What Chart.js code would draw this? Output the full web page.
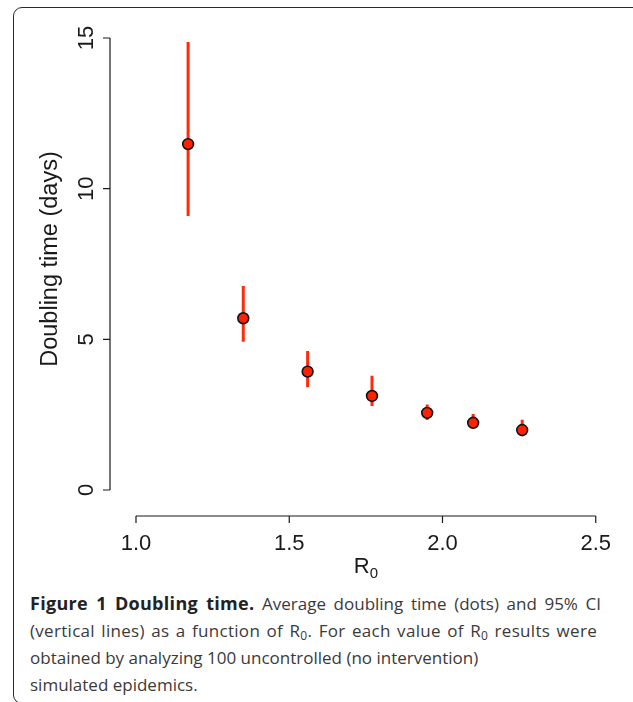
<!DOCTYPE html>
<html>
<head>
<meta charset="utf-8">
<script src="https://cdn.jsdelivr.net/npm/chart.js@4/dist/chart.umd.min.js"></script>
<style>
  html, body { margin: 0; padding: 0; background: #fff; width: 633px; height: 702px; overflow: hidden; }
  #frame { position: absolute; left: 13px; top: 7px; width: 700px; height: 697px;
           border: 1.6px solid #2a2a2a; border-radius: 9px; box-sizing: border-box; }
  #chart { position: absolute; left: 0; top: 0; }
  #caption { position: absolute; left: 30px; top: 590px; width: 600px;
             font-family: "Open Sans", sans-serif; font-size: 17px; line-height: 27px; color: #3a3a3a; }
  #caption .ln { white-space: nowrap; }
  #caption .j { text-align: justify; text-align-last: justify; white-space: normal; }
  #caption b { color: #222; font-weight: 700; font-size: 18px; letter-spacing: 0.3px; }
  #caption sub { font-size: 12px; line-height: 0; vertical-align: -3px; }
</style>
</head>
<body>
<div id="frame"></div>
<canvas id="chart" width="633" height="590"></canvas>
<div id="caption">
  <div class="ln j" style="width:571px"><b>Figure 1 Doubling time.</b> Average doubling time (dots) and 95% CI</div>
  <div class="ln j" style="width:567px; letter-spacing:0.3px">(vertical lines) as a function of R<sub>0</sub>. For each value of R<sub>0</sub> results were</div>
  <div class="ln">obtained by analyzing 100 uncontrolled (no intervention)</div>
  <div class="ln">simulated epidemics.</div>
</div>
<script>
// ---- data ----
const r0Values     = [1.17, 1.35, 1.56, 1.77, 1.95, 2.10, 2.26];
const doublingMean = [11.48, 5.70, 3.93, 3.12, 2.56, 2.23, 1.99];
const ciLower      = [9.09, 4.92, 3.41, 2.79, 2.32, 2.05, 1.78];
const ciUpper      = [14.87, 6.77, 4.61, 3.79, 2.84, 2.52, 2.33];
const xTicks = [1.0, 1.5, 2.0, 2.5];
const yTicks = [0, 5, 10, 15];
const xTickLabels = ['1.0', '1.5', '2.0', '2.5'];
const yTickLabels = ['0', '5', '10', '15'];
const yTitle = 'Doubling time (days)';
const xTitleMain = 'R';
const xTitleSub = '0';

// ---- build datasets ----
const pointData = r0Values.map((x, i) => ({ x: x, y: doublingMean[i] }));
const ciData = [];
r0Values.forEach((x, i) => {
  ciData.push({ x: x, y: ciLower[i] });
  ciData.push({ x: x, y: ciUpper[i] });
  ciData.push({ x: x, y: null });
});

const FONT = '"Liberation Sans", Arial, Helvetica, sans-serif';

const rAxes = {
  id: 'rAxes',
  afterDraw(chart) {
    const { ctx, scales: { x, y }, chartArea: a } = chart;
    ctx.save();
    ctx.strokeStyle = '#1a1a1a';
    ctx.fillStyle = '#1a1a1a';
    ctx.lineWidth = 1.2;
    // y axis
    const yTop = y.getPixelForValue(yTicks[yTicks.length - 1]);
    const yBot = y.getPixelForValue(yTicks[0]);
    ctx.beginPath();
    ctx.moveTo(a.left, yTop); ctx.lineTo(a.left, yBot);
    yTicks.forEach(v => { const p = y.getPixelForValue(v); ctx.moveTo(a.left, p); ctx.lineTo(a.left - 7, p); });
    ctx.stroke();
    ctx.font = '22px ' + FONT;
    ctx.textAlign = 'center';
    ctx.textBaseline = 'alphabetic';
    yTicks.forEach((v, i) => {
      const p = y.getPixelForValue(v);
      ctx.save(); ctx.translate(a.left - 17, p); ctx.rotate(-Math.PI / 2);
      ctx.fillText(yTickLabels[i], 0, 0); ctx.restore();
    });
    // x axis
    const xL = x.getPixelForValue(xTicks[0]);
    const xR = x.getPixelForValue(xTicks[xTicks.length - 1]);
    ctx.beginPath();
    ctx.moveTo(xL, a.bottom); ctx.lineTo(xR, a.bottom);
    xTicks.forEach(v => { const p = x.getPixelForValue(v); ctx.moveTo(p, a.bottom); ctx.lineTo(p, a.bottom + 7); });
    ctx.stroke();
    xTicks.forEach((v, i) => {
      ctx.fillText(xTickLabels[i], x.getPixelForValue(v), a.bottom + 34);
    });
    // y title
    ctx.save();
    ctx.font = '23.5px ' + FONT;
    ctx.translate(57, (yTop + yBot) / 2 - 5);
    ctx.rotate(-Math.PI / 2);
    ctx.fillText(yTitle, 0, 0);
    ctx.restore();
    // x title R0
    ctx.font = '22px ' + FONT;
    const wR = ctx.measureText(xTitleMain).width;
    ctx.font = '15px ' + FONT;
    const w0 = ctx.measureText(xTitleSub).width;
    const cx = (xL + xR) / 2;
    const start = cx - (wR + w0) / 2;
    ctx.textAlign = 'left';
    ctx.font = '22px ' + FONT;
    ctx.fillText(xTitleMain, start, a.bottom + 57);
    ctx.font = '15px ' + FONT;
    ctx.fillText(xTitleSub, start + wR, a.bottom + 62);
    ctx.restore();
  }
};

new Chart(document.getElementById('chart'), {
  type: 'scatter',
  data: {
    datasets: [
      {
        label: 'Mean',
        data: pointData,
        pointRadius: 5.4,
        pointHoverRadius: 5.4,
        pointBackgroundColor: '#ff2200',
        pointBorderColor: '#111',
        pointBorderWidth: 1.6,
        showLine: false,
        order: 0
      },
      {
        label: '95% CI',
        data: ciData,
        showLine: true,
        spanGaps: false,
        borderColor: '#ff2a0a',
        borderWidth: 3,
        pointRadius: 0,
        pointHoverRadius: 0,
        order: 1
      }
    ]
  },
  options: {
    responsive: false,
    animation: false,
    events: [],
    layout: { padding: { left: 110, right: 13, top: 30, bottom: 74 } },
    plugins: { legend: { display: false }, tooltip: { enabled: false } },
    scales: {
      x: { type: 'linear', display: false, min: 0.9152, max: 2.5791 },
      y: { type: 'linear', display: false, min: -0.863, max: 15.266 }
    }
  },
  plugins: [rAxes]
});
</script>
</body>
</html>
